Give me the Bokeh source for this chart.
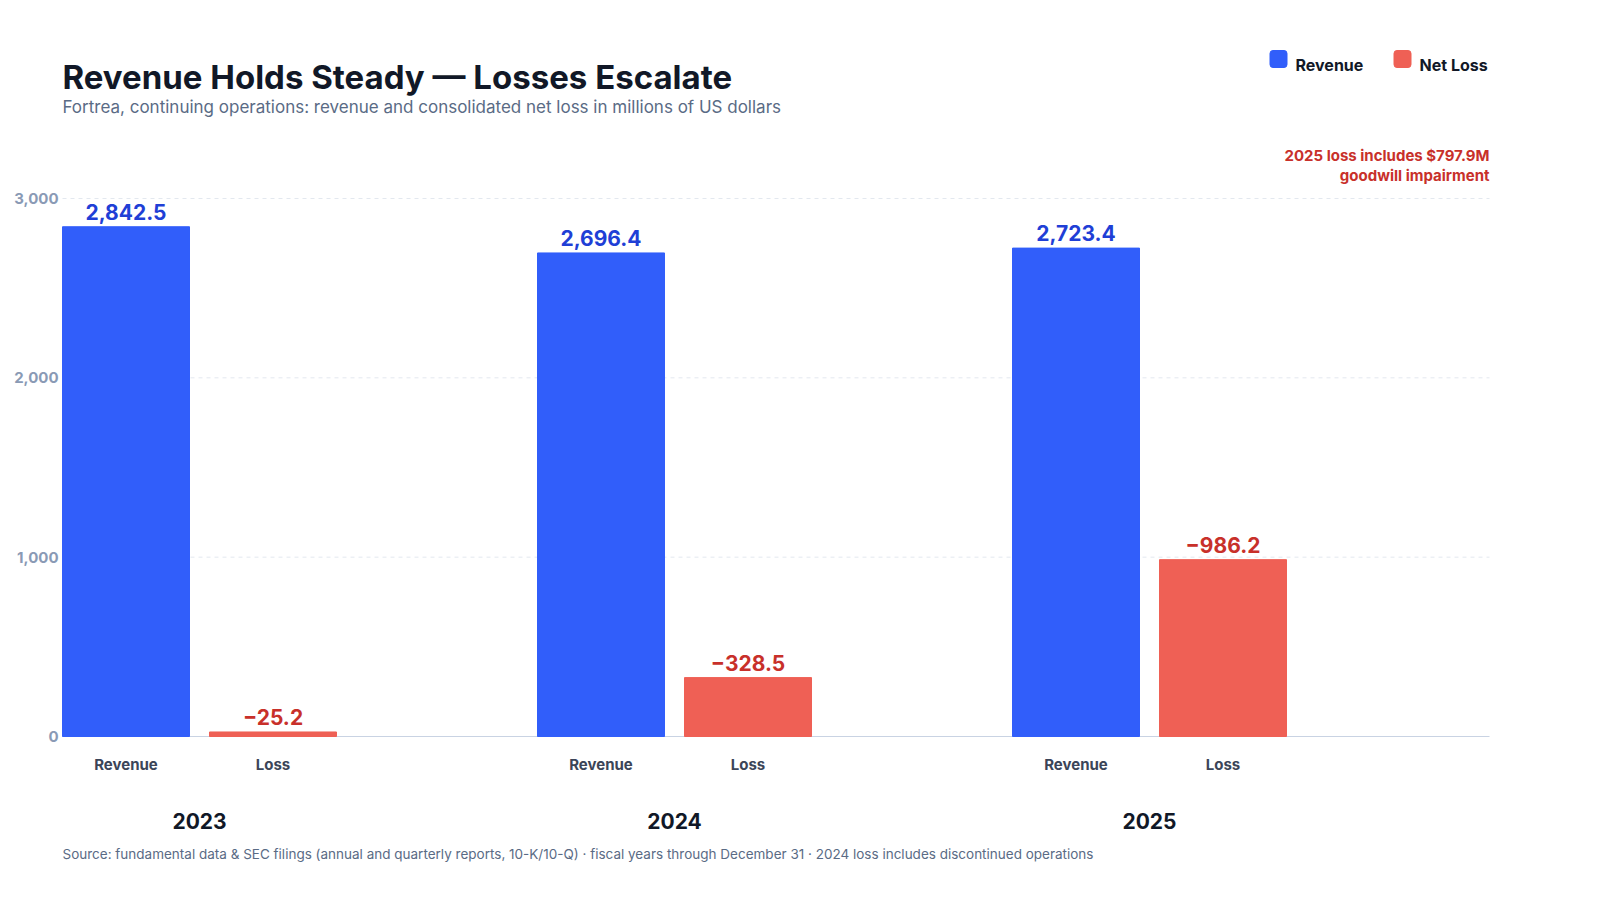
from bokeh.plotting import figure
from bokeh.models import Range1d
from bokeh.core.properties import value
from bokeh.embed import file_html
from bokeh.resources import INLINE

years = ["2023", "2024", "2025"]
revenue = [2842.5, 2696.4, 2723.4]
net_loss = [-25.2, -328.5, -986.2]
bar_names = ["Revenue", "Loss"]
y_ticks = [0, 1000, 2000, 3000]

FONT = "Inter"
REV_C, LOSS_C = "#315efa", "#ef6055"
REV_T, LOSS_T = "#1f3fd6", "#c8302a"
K = 538 / 3000.0  # px per unit
def yd(py): return (744 - py) / K
def xd(px): return px - 70

W, H = 1560, 880
p = figure(width=W, height=H, output_backend="svg", toolbar_location=None,
           x_range=Range1d(xd(8), xd(8 + W)), y_range=Range1d(yd(8 + H), yd(8)),
           min_border=0, outline_line_color=None)
p.xaxis.visible = False
p.yaxis.visible = False
p.xgrid.visible = False
p.ygrid.visible = False

# grid and y labels
gt = [t for t in y_ticks if t > 0]
p.segment(x0=[0] * len(gt), x1=[1427] * len(gt), y0=gt, y1=gt,
          line_color="#e3e8ef", line_dash="4 4", line_width=1)
p.segment(x0=[0], x1=[1427], y0=[0], y1=[0], line_color="#c9d3e3", line_width=1)
p.text(x=[-4] * len(y_ticks), y=y_ticks, text=[f"{t:,}" for t in y_ticks],
       text_align="right", text_baseline="middle", text_font=value(FONT),
       text_font_style="bold", text_font_size="15px", text_color="#8a9ab5")

GROUP, OFF, BW = 475, 147, 127
rx = [i * GROUP + BW / 2 for i in range(len(years))]
lx = [x + OFF for x in rx]
loss_h = [abs(v) for v in net_loss]

p.vbar(x=rx, top=revenue, width=BW, color=REV_C)
p.vbar(x=lx, top=loss_h, width=BW, color=LOSS_C)

p.text(x=rx, y=revenue, text=[f"{v:,.1f}" for v in revenue], text_align="center",
       text_baseline="bottom", y_offset=-7, text_font=value(FONT), text_font_style="bold",
       text_font_size="21px", text_color=REV_T)
p.text(x=lx, y=loss_h, text=[f"\u2212{abs(v):,.1f}" for v in net_loss], text_align="center",
       text_baseline="bottom", y_offset=-7, text_font=value(FONT), text_font_style="bold",
       text_font_size="21px", text_color=LOSS_T)

def lab(x, y, t, size, color, style="normal", align="left"):
    p.text(x=[x], y=[y], text=[t], text_font=value(FONT), text_font_size=size,
           text_color=color, text_font_style=style, text_align=align,
           text_baseline="alphabetic")

for i, yr in enumerate(years):
    lab(rx[i], yd(772), bar_names[0], "15px", "#3b4558", "bold", "center")
    lab(lx[i], yd(772), bar_names[1], "15px", "#3b4558", "bold", "center")
    lab((rx[i] + lx[i]) / 2, yd(828), yr, "21px", "#111827", "bold", "center")

lab(xd(70), yd(84), "Revenue Holds Steady \u2014 Losses Escalate", "33px", "#111827", "bold")
lab(xd(70), yd(114), "Fortrea, continuing operations: revenue and consolidated net loss in millions of US dollars", "17px", "#5a6b85")
lab(xd(1497), yd(163), "2025 loss includes $797.9M", "15px", LOSS_T, "bold", "right")
lab(xd(1497), yd(183), "goodwill impairment", "15px", LOSS_T, "bold", "right")
lab(xd(70), yd(861), "Source: fundamental data & SEC filings (annual and quarterly reports, 10-K/10-Q) \u00b7 fiscal years through December 31 \u00b7 2024 loss includes discontinued operations", "13.5px", "#5a6b85")

p.rect(x=[xd(1286), xd(1410)], y=[yd(66.5)] * 2, width=17, height=17 / K,
       color=[REV_C, LOSS_C], border_radius=3)
lab(xd(1303), yd(72), "Revenue", "16px", "#111827", "bold")
lab(xd(1427), yd(72), "Net Loss", "16px", "#111827", "bold")

open("out.html", "w").write(file_html(p, INLINE))
